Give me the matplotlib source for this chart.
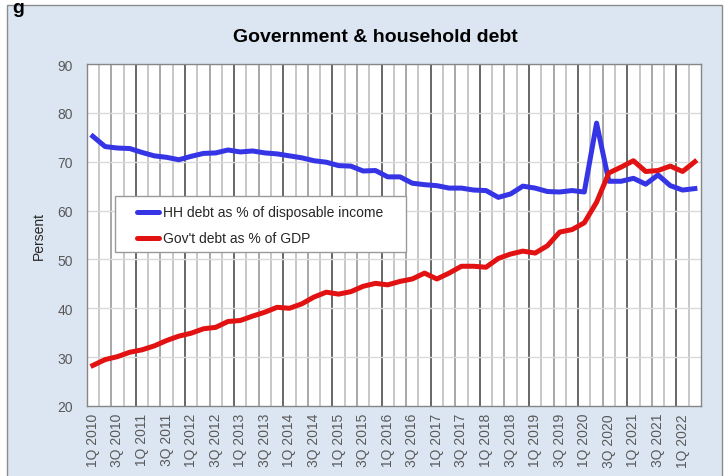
import matplotlib.pyplot as plt
from matplotlib.patches import Rectangle

plt.rcParams['font.family'] = ['Liberation Sans', 'DejaVu Sans']

# quarterly observations, 1Q 2010 .. 2Q 2022
quarters = [f"{q}Q {y}" for y in range(2010, 2023) for q in range(1, 5)][:50]

hh_debt = [75.2, 73.1, 72.8, 72.7, 71.9, 71.2, 70.9, 70.4, 71.1, 71.7,
           71.8, 72.4, 72.0, 72.2, 71.8, 71.6, 71.2, 70.8, 70.2, 69.9,
           69.2, 69.1, 68.1, 68.2, 66.9, 66.9, 65.6, 65.3, 65.1, 64.6,
           64.6, 64.2, 64.1, 62.7, 63.4, 65.0, 64.6, 63.9, 63.8, 64.1,
           63.8, 77.9, 66.0, 66.0, 66.6, 65.4, 67.3, 65.1, 64.2, 64.5]

gov_debt = [28.3, 29.5, 30.1, 31.0, 31.5, 32.3, 33.4, 34.3, 34.9, 35.8,
            36.1, 37.3, 37.5, 38.4, 39.2, 40.2, 40.0, 40.9, 42.3, 43.3,
            42.9, 43.4, 44.5, 45.1, 44.8, 45.5, 46.0, 47.2, 46.0, 47.2,
            48.6, 48.6, 48.4, 50.2, 51.1, 51.7, 51.3, 52.8, 55.6, 56.1,
            57.5, 61.7, 67.7, 68.9, 70.2, 68.0, 68.2, 69.1, 68.0, 70.0]

series_labels = ["HH debt as % of disposable income", "Gov't debt as % of GDP"]
series_colors = ["#3535e6", "#e31212"]

W, H = 724, 477
fig = plt.figure(figsize=(W / 100, H / 100), dpi=100, facecolor="white")

# chart area panel (behind the axes)
fig.patches.append(Rectangle((7 / W, -0.01), (722 - 7) / W, 1 - 6 / H + 0.01,
                             transform=fig.transFigure, facecolor="#dce6f2",
                             edgecolor="#8c8c8c", lw=1, zorder=-5))
# fragment of the heading above the chart
fig.text(12 / W, 1.0, "g", fontsize=14, fontweight="bold", va="top")

ax = fig.add_axes([86.7 / W, 1 - 407 / H, (701 - 86.7) / W, (407 - 65) / H])
ax.set_zorder(2)
ax.set_facecolor("white")

n = len(quarters)
x = list(range(n))

# category separators: darker at year boundaries
for k in range(1, n):
    if k % 4 == 0:
        c = "#3f3f3f"
    elif k % 2 == 0:
        c = "#8f8f8f"
    else:
        c = "#b8b8b8"
    ax.axvline(k - 0.5, color=c, lw=1.1, zorder=1)
for yv in range(30, 90, 10):
    ax.axhline(yv, color="#dadada", lw=1, zorder=1)

for vals, col in zip([hh_debt, gov_debt], series_colors):
    ax.plot(x, vals, color=col, lw=3.6, solid_joinstyle="round", zorder=3)

ax.set_xlim(-0.5, n - 0.5)
ax.set_ylim(20, 90)
ax.set_yticks(range(20, 91, 10))
ax.set_xticks(x[::2])
ax.set_xticklabels(quarters[::2], rotation=90)
ax.tick_params(axis="both", length=0, labelsize=10, colors="#595959")
ax.tick_params(axis="y", pad=10)
ax.tick_params(axis="x", pad=5)
for s in ax.spines.values():
    s.set_color("#868686")
    s.set_linewidth(1)

ax.set_ylabel("Persent", fontsize=10, color="#262626", labelpad=8)

fig.text(375 / W, 1 - 37 / H, "Government & household debt", fontsize=14,
         fontweight="bold", ha="center", va="center")

# legend box drawn the way the spreadsheet lays it out
px_w, px_h = 701 - 86.7, 407 - 65
def ax_x(px):
    return (px - 86.7) / px_w
def ax_y(py):
    return (407 - py) / px_h

ax.add_patch(Rectangle((ax_x(115), ax_y(253)), ax_x(406) - ax_x(115),
                       ax_y(197) - ax_y(253), transform=ax.transAxes,
                       facecolor="white", edgecolor="#9a9a9a", lw=1, zorder=5))
for row_py, lab, col in zip([213, 239], series_labels, series_colors):
    ax.plot([ax_x(137), ax_x(159)], [ax_y(row_py)] * 2, transform=ax.transAxes,
            color=col, lw=3.6, solid_capstyle="round", zorder=6)
    ax.text(ax_x(163), ax_y(row_py), lab, transform=ax.transAxes, fontsize=10,
            color="#262626", va="center", ha="left", zorder=6)

fig.savefig("out.png", dpi=100, facecolor=fig.get_facecolor())
